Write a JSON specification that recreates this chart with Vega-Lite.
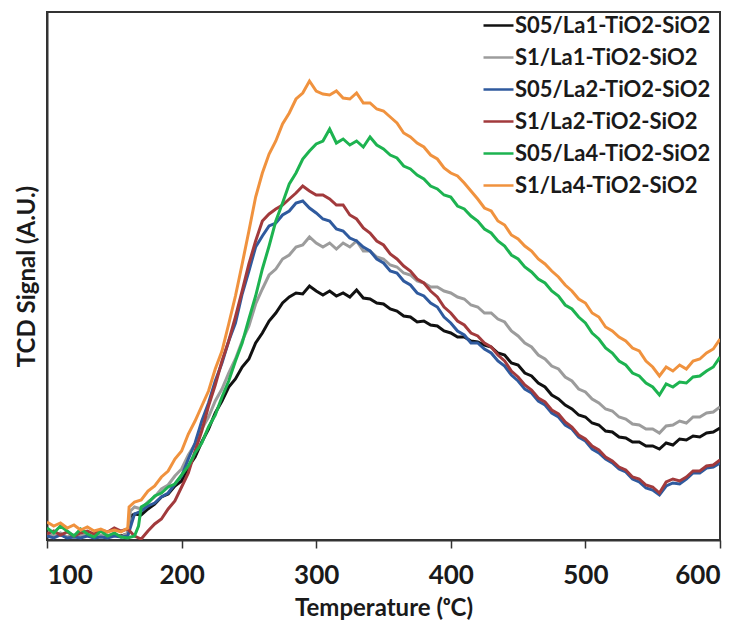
{
"$schema":"https://vega.github.io/schema/vega-lite/v6.json",
"width":673,"height":528,
"autosize":{"type":"none"},
"padding":{"left":47,"top":12,"right":28,"bottom":94},
"background":"white",
"config":{"view":{"stroke":"#333333","strokeWidth":2},"font":"Lato"},
"data":{"values":[
{"s":"S05/La1-TiO2-SiO2","t":100,"v":5},{"s":"S05/La1-TiO2-SiO2","t":105,"v":3},{"s":"S05/La1-TiO2-SiO2","t":110,"v":6},{"s":"S05/La1-TiO2-SiO2","t":115,"v":2},{"s":"S05/La1-TiO2-SiO2","t":120,"v":4},{"s":"S05/La1-TiO2-SiO2","t":125,"v":3},{"s":"S05/La1-TiO2-SiO2","t":130,"v":5},{"s":"S05/La1-TiO2-SiO2","t":135,"v":2},{"s":"S05/La1-TiO2-SiO2","t":140,"v":4},{"s":"S05/La1-TiO2-SiO2","t":145,"v":3},{"s":"S05/La1-TiO2-SiO2","t":150,"v":5},{"s":"S05/La1-TiO2-SiO2","t":155,"v":4},{"s":"S05/La1-TiO2-SiO2","t":160,"v":6},{"s":"S05/La1-TiO2-SiO2","t":162,"v":24},{"s":"S05/La1-TiO2-SiO2","t":165,"v":26},{"s":"S05/La1-TiO2-SiO2","t":170,"v":25},{"s":"S05/La1-TiO2-SiO2","t":175,"v":31},{"s":"S05/La1-TiO2-SiO2","t":180,"v":36},{"s":"S05/La1-TiO2-SiO2","t":185,"v":43},{"s":"S05/La1-TiO2-SiO2","t":190,"v":46},{"s":"S05/La1-TiO2-SiO2","t":195,"v":54},{"s":"S05/La1-TiO2-SiO2","t":200,"v":59},{"s":"S05/La1-TiO2-SiO2","t":205,"v":73},{"s":"S05/La1-TiO2-SiO2","t":210,"v":83},{"s":"S05/La1-TiO2-SiO2","t":215,"v":98},{"s":"S05/La1-TiO2-SiO2","t":220,"v":111},{"s":"S05/La1-TiO2-SiO2","t":225,"v":127},{"s":"S05/La1-TiO2-SiO2","t":230,"v":139},{"s":"S05/La1-TiO2-SiO2","t":235,"v":153},{"s":"S05/La1-TiO2-SiO2","t":240,"v":161},{"s":"S05/La1-TiO2-SiO2","t":245,"v":173},{"s":"S05/La1-TiO2-SiO2","t":250,"v":181},{"s":"S05/La1-TiO2-SiO2","t":255,"v":197},{"s":"S05/La1-TiO2-SiO2","t":260,"v":207},{"s":"S05/La1-TiO2-SiO2","t":265,"v":219},{"s":"S05/La1-TiO2-SiO2","t":270,"v":227},{"s":"S05/La1-TiO2-SiO2","t":275,"v":237},{"s":"S05/La1-TiO2-SiO2","t":280,"v":243},{"s":"S05/La1-TiO2-SiO2","t":285,"v":247},{"s":"S05/La1-TiO2-SiO2","t":290,"v":246},{"s":"S05/La1-TiO2-SiO2","t":295,"v":254},{"s":"S05/La1-TiO2-SiO2","t":300,"v":249},{"s":"S05/La1-TiO2-SiO2","t":305,"v":245},{"s":"S05/La1-TiO2-SiO2","t":310,"v":249},{"s":"S05/La1-TiO2-SiO2","t":315,"v":244},{"s":"S05/La1-TiO2-SiO2","t":320,"v":247},{"s":"S05/La1-TiO2-SiO2","t":325,"v":243},{"s":"S05/La1-TiO2-SiO2","t":330,"v":250},{"s":"S05/La1-TiO2-SiO2","t":335,"v":242},{"s":"S05/La1-TiO2-SiO2","t":340,"v":241},{"s":"S05/La1-TiO2-SiO2","t":345,"v":237},{"s":"S05/La1-TiO2-SiO2","t":350,"v":236},{"s":"S05/La1-TiO2-SiO2","t":355,"v":231},{"s":"S05/La1-TiO2-SiO2","t":360,"v":229},{"s":"S05/La1-TiO2-SiO2","t":365,"v":224},{"s":"S05/La1-TiO2-SiO2","t":370,"v":223},{"s":"S05/La1-TiO2-SiO2","t":375,"v":218},{"s":"S05/La1-TiO2-SiO2","t":380,"v":219},{"s":"S05/La1-TiO2-SiO2","t":385,"v":215},{"s":"S05/La1-TiO2-SiO2","t":390,"v":214},{"s":"S05/La1-TiO2-SiO2","t":395,"v":209},{"s":"S05/La1-TiO2-SiO2","t":400,"v":207},{"s":"S05/La1-TiO2-SiO2","t":405,"v":203},{"s":"S05/La1-TiO2-SiO2","t":410,"v":203},{"s":"S05/La1-TiO2-SiO2","t":415,"v":199},{"s":"S05/La1-TiO2-SiO2","t":420,"v":198},{"s":"S05/La1-TiO2-SiO2","t":425,"v":195},{"s":"S05/La1-TiO2-SiO2","t":430,"v":193},{"s":"S05/La1-TiO2-SiO2","t":435,"v":187},{"s":"S05/La1-TiO2-SiO2","t":440,"v":185},{"s":"S05/La1-TiO2-SiO2","t":445,"v":177},{"s":"S05/La1-TiO2-SiO2","t":450,"v":175},{"s":"S05/La1-TiO2-SiO2","t":455,"v":167},{"s":"S05/La1-TiO2-SiO2","t":460,"v":164},{"s":"S05/La1-TiO2-SiO2","t":465,"v":157},{"s":"S05/La1-TiO2-SiO2","t":470,"v":153},{"s":"S05/La1-TiO2-SiO2","t":475,"v":145},{"s":"S05/La1-TiO2-SiO2","t":480,"v":141},{"s":"S05/La1-TiO2-SiO2","t":485,"v":135},{"s":"S05/La1-TiO2-SiO2","t":490,"v":131},{"s":"S05/La1-TiO2-SiO2","t":495,"v":125},{"s":"S05/La1-TiO2-SiO2","t":500,"v":123},{"s":"S05/La1-TiO2-SiO2","t":505,"v":117},{"s":"S05/La1-TiO2-SiO2","t":510,"v":115},{"s":"S05/La1-TiO2-SiO2","t":515,"v":109},{"s":"S05/La1-TiO2-SiO2","t":520,"v":108},{"s":"S05/La1-TiO2-SiO2","t":525,"v":103},{"s":"S05/La1-TiO2-SiO2","t":530,"v":102},{"s":"S05/La1-TiO2-SiO2","t":535,"v":98},{"s":"S05/La1-TiO2-SiO2","t":540,"v":98},{"s":"S05/La1-TiO2-SiO2","t":545,"v":94},{"s":"S05/La1-TiO2-SiO2","t":550,"v":94},{"s":"S05/La1-TiO2-SiO2","t":555,"v":91},{"s":"S05/La1-TiO2-SiO2","t":560,"v":97},{"s":"S05/La1-TiO2-SiO2","t":565,"v":95},{"s":"S05/La1-TiO2-SiO2","t":570,"v":101},{"s":"S05/La1-TiO2-SiO2","t":575,"v":100},{"s":"S05/La1-TiO2-SiO2","t":580,"v":104},{"s":"S05/La1-TiO2-SiO2","t":585,"v":103},{"s":"S05/La1-TiO2-SiO2","t":590,"v":107},{"s":"S05/La1-TiO2-SiO2","t":595,"v":108},{"s":"S05/La1-TiO2-SiO2","t":600,"v":112},
{"s":"S1/La1-TiO2-SiO2","t":100,"v":6},{"s":"S1/La1-TiO2-SiO2","t":105,"v":4},{"s":"S1/La1-TiO2-SiO2","t":110,"v":7},{"s":"S1/La1-TiO2-SiO2","t":115,"v":3},{"s":"S1/La1-TiO2-SiO2","t":120,"v":5},{"s":"S1/La1-TiO2-SiO2","t":125,"v":4},{"s":"S1/La1-TiO2-SiO2","t":130,"v":6},{"s":"S1/La1-TiO2-SiO2","t":135,"v":3},{"s":"S1/La1-TiO2-SiO2","t":140,"v":5},{"s":"S1/La1-TiO2-SiO2","t":145,"v":4},{"s":"S1/La1-TiO2-SiO2","t":150,"v":6},{"s":"S1/La1-TiO2-SiO2","t":155,"v":3},{"s":"S1/La1-TiO2-SiO2","t":160,"v":7},{"s":"S1/La1-TiO2-SiO2","t":162,"v":29},{"s":"S1/La1-TiO2-SiO2","t":165,"v":33},{"s":"S1/La1-TiO2-SiO2","t":170,"v":31},{"s":"S1/La1-TiO2-SiO2","t":175,"v":38},{"s":"S1/La1-TiO2-SiO2","t":180,"v":43},{"s":"S1/La1-TiO2-SiO2","t":185,"v":51},{"s":"S1/La1-TiO2-SiO2","t":190,"v":55},{"s":"S1/La1-TiO2-SiO2","t":195,"v":64},{"s":"S1/La1-TiO2-SiO2","t":200,"v":71},{"s":"S1/La1-TiO2-SiO2","t":205,"v":85},{"s":"S1/La1-TiO2-SiO2","t":210,"v":96},{"s":"S1/La1-TiO2-SiO2","t":215,"v":111},{"s":"S1/La1-TiO2-SiO2","t":220,"v":123},{"s":"S1/La1-TiO2-SiO2","t":225,"v":139},{"s":"S1/La1-TiO2-SiO2","t":230,"v":151},{"s":"S1/La1-TiO2-SiO2","t":235,"v":167},{"s":"S1/La1-TiO2-SiO2","t":240,"v":181},{"s":"S1/La1-TiO2-SiO2","t":245,"v":199},{"s":"S1/La1-TiO2-SiO2","t":250,"v":214},{"s":"S1/La1-TiO2-SiO2","t":255,"v":236},{"s":"S1/La1-TiO2-SiO2","t":260,"v":251},{"s":"S1/La1-TiO2-SiO2","t":265,"v":265},{"s":"S1/La1-TiO2-SiO2","t":270,"v":271},{"s":"S1/La1-TiO2-SiO2","t":275,"v":281},{"s":"S1/La1-TiO2-SiO2","t":280,"v":285},{"s":"S1/La1-TiO2-SiO2","t":285,"v":293},{"s":"S1/La1-TiO2-SiO2","t":290,"v":295},{"s":"S1/La1-TiO2-SiO2","t":295,"v":303},{"s":"S1/La1-TiO2-SiO2","t":300,"v":297},{"s":"S1/La1-TiO2-SiO2","t":305,"v":293},{"s":"S1/La1-TiO2-SiO2","t":310,"v":297},{"s":"S1/La1-TiO2-SiO2","t":315,"v":291},{"s":"S1/La1-TiO2-SiO2","t":320,"v":297},{"s":"S1/La1-TiO2-SiO2","t":325,"v":293},{"s":"S1/La1-TiO2-SiO2","t":330,"v":299},{"s":"S1/La1-TiO2-SiO2","t":335,"v":289},{"s":"S1/La1-TiO2-SiO2","t":340,"v":289},{"s":"S1/La1-TiO2-SiO2","t":345,"v":283},{"s":"S1/La1-TiO2-SiO2","t":350,"v":281},{"s":"S1/La1-TiO2-SiO2","t":355,"v":275},{"s":"S1/La1-TiO2-SiO2","t":360,"v":273},{"s":"S1/La1-TiO2-SiO2","t":365,"v":267},{"s":"S1/La1-TiO2-SiO2","t":370,"v":265},{"s":"S1/La1-TiO2-SiO2","t":375,"v":259},{"s":"S1/La1-TiO2-SiO2","t":380,"v":257},{"s":"S1/La1-TiO2-SiO2","t":385,"v":253},{"s":"S1/La1-TiO2-SiO2","t":390,"v":253},{"s":"S1/La1-TiO2-SiO2","t":395,"v":249},{"s":"S1/La1-TiO2-SiO2","t":400,"v":247},{"s":"S1/La1-TiO2-SiO2","t":405,"v":243},{"s":"S1/La1-TiO2-SiO2","t":410,"v":241},{"s":"S1/La1-TiO2-SiO2","t":415,"v":235},{"s":"S1/La1-TiO2-SiO2","t":420,"v":233},{"s":"S1/La1-TiO2-SiO2","t":425,"v":227},{"s":"S1/La1-TiO2-SiO2","t":430,"v":227},{"s":"S1/La1-TiO2-SiO2","t":435,"v":221},{"s":"S1/La1-TiO2-SiO2","t":440,"v":218},{"s":"S1/La1-TiO2-SiO2","t":445,"v":209},{"s":"S1/La1-TiO2-SiO2","t":450,"v":204},{"s":"S1/La1-TiO2-SiO2","t":455,"v":197},{"s":"S1/La1-TiO2-SiO2","t":460,"v":193},{"s":"S1/La1-TiO2-SiO2","t":465,"v":185},{"s":"S1/La1-TiO2-SiO2","t":470,"v":181},{"s":"S1/La1-TiO2-SiO2","t":475,"v":174},{"s":"S1/La1-TiO2-SiO2","t":480,"v":171},{"s":"S1/La1-TiO2-SiO2","t":485,"v":163},{"s":"S1/La1-TiO2-SiO2","t":490,"v":159},{"s":"S1/La1-TiO2-SiO2","t":495,"v":151},{"s":"S1/La1-TiO2-SiO2","t":500,"v":148},{"s":"S1/La1-TiO2-SiO2","t":505,"v":141},{"s":"S1/La1-TiO2-SiO2","t":510,"v":137},{"s":"S1/La1-TiO2-SiO2","t":515,"v":131},{"s":"S1/La1-TiO2-SiO2","t":520,"v":129},{"s":"S1/La1-TiO2-SiO2","t":525,"v":123},{"s":"S1/La1-TiO2-SiO2","t":530,"v":121},{"s":"S1/La1-TiO2-SiO2","t":535,"v":116},{"s":"S1/La1-TiO2-SiO2","t":540,"v":115},{"s":"S1/La1-TiO2-SiO2","t":545,"v":111},{"s":"S1/La1-TiO2-SiO2","t":550,"v":111},{"s":"S1/La1-TiO2-SiO2","t":555,"v":107},{"s":"S1/La1-TiO2-SiO2","t":560,"v":114},{"s":"S1/La1-TiO2-SiO2","t":565,"v":115},{"s":"S1/La1-TiO2-SiO2","t":570,"v":119},{"s":"S1/La1-TiO2-SiO2","t":575,"v":117},{"s":"S1/La1-TiO2-SiO2","t":580,"v":123},{"s":"S1/La1-TiO2-SiO2","t":585,"v":123},{"s":"S1/La1-TiO2-SiO2","t":590,"v":127},{"s":"S1/La1-TiO2-SiO2","t":595,"v":128},{"s":"S1/La1-TiO2-SiO2","t":600,"v":133},
{"s":"S05/La2-TiO2-SiO2","t":100,"v":4},{"s":"S05/La2-TiO2-SiO2","t":105,"v":2},{"s":"S05/La2-TiO2-SiO2","t":110,"v":5},{"s":"S05/La2-TiO2-SiO2","t":115,"v":2},{"s":"S05/La2-TiO2-SiO2","t":120,"v":3},{"s":"S05/La2-TiO2-SiO2","t":125,"v":2},{"s":"S05/La2-TiO2-SiO2","t":130,"v":4},{"s":"S05/La2-TiO2-SiO2","t":135,"v":2},{"s":"S05/La2-TiO2-SiO2","t":140,"v":3},{"s":"S05/La2-TiO2-SiO2","t":145,"v":2},{"s":"S05/La2-TiO2-SiO2","t":150,"v":4},{"s":"S05/La2-TiO2-SiO2","t":155,"v":3},{"s":"S05/La2-TiO2-SiO2","t":160,"v":4},{"s":"S05/La2-TiO2-SiO2","t":165,"v":26},{"s":"S05/La2-TiO2-SiO2","t":170,"v":29},{"s":"S05/La2-TiO2-SiO2","t":175,"v":34},{"s":"S05/La2-TiO2-SiO2","t":180,"v":37},{"s":"S05/La2-TiO2-SiO2","t":185,"v":43},{"s":"S05/La2-TiO2-SiO2","t":190,"v":47},{"s":"S05/La2-TiO2-SiO2","t":195,"v":56},{"s":"S05/La2-TiO2-SiO2","t":200,"v":64},{"s":"S05/La2-TiO2-SiO2","t":205,"v":81},{"s":"S05/La2-TiO2-SiO2","t":210,"v":97},{"s":"S05/La2-TiO2-SiO2","t":215,"v":119},{"s":"S05/La2-TiO2-SiO2","t":220,"v":137},{"s":"S05/La2-TiO2-SiO2","t":225,"v":159},{"s":"S05/La2-TiO2-SiO2","t":230,"v":177},{"s":"S05/La2-TiO2-SiO2","t":235,"v":199},{"s":"S05/La2-TiO2-SiO2","t":240,"v":217},{"s":"S05/La2-TiO2-SiO2","t":245,"v":246},{"s":"S05/La2-TiO2-SiO2","t":250,"v":269},{"s":"S05/La2-TiO2-SiO2","t":255,"v":293},{"s":"S05/La2-TiO2-SiO2","t":260,"v":304},{"s":"S05/La2-TiO2-SiO2","t":265,"v":314},{"s":"S05/La2-TiO2-SiO2","t":270,"v":317},{"s":"S05/La2-TiO2-SiO2","t":275,"v":325},{"s":"S05/La2-TiO2-SiO2","t":280,"v":329},{"s":"S05/La2-TiO2-SiO2","t":285,"v":337},{"s":"S05/La2-TiO2-SiO2","t":290,"v":339},{"s":"S05/La2-TiO2-SiO2","t":295,"v":332},{"s":"S05/La2-TiO2-SiO2","t":300,"v":327},{"s":"S05/La2-TiO2-SiO2","t":305,"v":321},{"s":"S05/La2-TiO2-SiO2","t":310,"v":319},{"s":"S05/La2-TiO2-SiO2","t":315,"v":311},{"s":"S05/La2-TiO2-SiO2","t":320,"v":309},{"s":"S05/La2-TiO2-SiO2","t":325,"v":302},{"s":"S05/La2-TiO2-SiO2","t":330,"v":299},{"s":"S05/La2-TiO2-SiO2","t":335,"v":293},{"s":"S05/La2-TiO2-SiO2","t":340,"v":289},{"s":"S05/La2-TiO2-SiO2","t":345,"v":281},{"s":"S05/La2-TiO2-SiO2","t":350,"v":277},{"s":"S05/La2-TiO2-SiO2","t":355,"v":269},{"s":"S05/La2-TiO2-SiO2","t":360,"v":267},{"s":"S05/La2-TiO2-SiO2","t":365,"v":259},{"s":"S05/La2-TiO2-SiO2","t":370,"v":255},{"s":"S05/La2-TiO2-SiO2","t":375,"v":247},{"s":"S05/La2-TiO2-SiO2","t":380,"v":244},{"s":"S05/La2-TiO2-SiO2","t":385,"v":237},{"s":"S05/La2-TiO2-SiO2","t":390,"v":233},{"s":"S05/La2-TiO2-SiO2","t":395,"v":223},{"s":"S05/La2-TiO2-SiO2","t":400,"v":217},{"s":"S05/La2-TiO2-SiO2","t":405,"v":209},{"s":"S05/La2-TiO2-SiO2","t":410,"v":205},{"s":"S05/La2-TiO2-SiO2","t":415,"v":197},{"s":"S05/La2-TiO2-SiO2","t":420,"v":197},{"s":"S05/La2-TiO2-SiO2","t":425,"v":191},{"s":"S05/La2-TiO2-SiO2","t":430,"v":187},{"s":"S05/La2-TiO2-SiO2","t":435,"v":179},{"s":"S05/La2-TiO2-SiO2","t":440,"v":174},{"s":"S05/La2-TiO2-SiO2","t":445,"v":165},{"s":"S05/La2-TiO2-SiO2","t":450,"v":159},{"s":"S05/La2-TiO2-SiO2","t":455,"v":151},{"s":"S05/La2-TiO2-SiO2","t":460,"v":147},{"s":"S05/La2-TiO2-SiO2","t":465,"v":139},{"s":"S05/La2-TiO2-SiO2","t":470,"v":135},{"s":"S05/La2-TiO2-SiO2","t":475,"v":127},{"s":"S05/La2-TiO2-SiO2","t":480,"v":123},{"s":"S05/La2-TiO2-SiO2","t":485,"v":115},{"s":"S05/La2-TiO2-SiO2","t":490,"v":111},{"s":"S05/La2-TiO2-SiO2","t":495,"v":103},{"s":"S05/La2-TiO2-SiO2","t":500,"v":99},{"s":"S05/La2-TiO2-SiO2","t":505,"v":91},{"s":"S05/La2-TiO2-SiO2","t":510,"v":87},{"s":"S05/La2-TiO2-SiO2","t":515,"v":81},{"s":"S05/La2-TiO2-SiO2","t":520,"v":77},{"s":"S05/La2-TiO2-SiO2","t":525,"v":71},{"s":"S05/La2-TiO2-SiO2","t":530,"v":68},{"s":"S05/La2-TiO2-SiO2","t":535,"v":61},{"s":"S05/La2-TiO2-SiO2","t":540,"v":58},{"s":"S05/La2-TiO2-SiO2","t":545,"v":52},{"s":"S05/La2-TiO2-SiO2","t":550,"v":50},{"s":"S05/La2-TiO2-SiO2","t":555,"v":45},{"s":"S05/La2-TiO2-SiO2","t":560,"v":54},{"s":"S05/La2-TiO2-SiO2","t":565,"v":57},{"s":"S05/La2-TiO2-SiO2","t":570,"v":56},{"s":"S05/La2-TiO2-SiO2","t":575,"v":61},{"s":"S05/La2-TiO2-SiO2","t":580,"v":67},{"s":"S05/La2-TiO2-SiO2","t":585,"v":67},{"s":"S05/La2-TiO2-SiO2","t":590,"v":72},{"s":"S05/La2-TiO2-SiO2","t":595,"v":73},{"s":"S05/La2-TiO2-SiO2","t":600,"v":77},
{"s":"S1/La2-TiO2-SiO2","t":100,"v":6},{"s":"S1/La2-TiO2-SiO2","t":105,"v":9},{"s":"S1/La2-TiO2-SiO2","t":110,"v":5},{"s":"S1/La2-TiO2-SiO2","t":115,"v":8},{"s":"S1/La2-TiO2-SiO2","t":120,"v":4},{"s":"S1/La2-TiO2-SiO2","t":125,"v":7},{"s":"S1/La2-TiO2-SiO2","t":130,"v":9},{"s":"S1/La2-TiO2-SiO2","t":135,"v":6},{"s":"S1/La2-TiO2-SiO2","t":140,"v":10},{"s":"S1/La2-TiO2-SiO2","t":145,"v":8},{"s":"S1/La2-TiO2-SiO2","t":150,"v":12},{"s":"S1/La2-TiO2-SiO2","t":155,"v":9},{"s":"S1/La2-TiO2-SiO2","t":160,"v":11},{"s":"S1/La2-TiO2-SiO2","t":165,"v":4},{"s":"S1/La2-TiO2-SiO2","t":170,"v":1},{"s":"S1/La2-TiO2-SiO2","t":175,"v":9},{"s":"S1/La2-TiO2-SiO2","t":180,"v":16},{"s":"S1/La2-TiO2-SiO2","t":185,"v":21},{"s":"S1/La2-TiO2-SiO2","t":190,"v":31},{"s":"S1/La2-TiO2-SiO2","t":195,"v":39},{"s":"S1/La2-TiO2-SiO2","t":200,"v":53},{"s":"S1/La2-TiO2-SiO2","t":205,"v":67},{"s":"S1/La2-TiO2-SiO2","t":210,"v":89},{"s":"S1/La2-TiO2-SiO2","t":215,"v":109},{"s":"S1/La2-TiO2-SiO2","t":220,"v":134},{"s":"S1/La2-TiO2-SiO2","t":225,"v":155},{"s":"S1/La2-TiO2-SiO2","t":230,"v":179},{"s":"S1/La2-TiO2-SiO2","t":235,"v":199},{"s":"S1/La2-TiO2-SiO2","t":240,"v":223},{"s":"S1/La2-TiO2-SiO2","t":245,"v":249},{"s":"S1/La2-TiO2-SiO2","t":250,"v":276},{"s":"S1/La2-TiO2-SiO2","t":255,"v":299},{"s":"S1/La2-TiO2-SiO2","t":260,"v":319},{"s":"S1/La2-TiO2-SiO2","t":265,"v":326},{"s":"S1/La2-TiO2-SiO2","t":270,"v":331},{"s":"S1/La2-TiO2-SiO2","t":275,"v":335},{"s":"S1/La2-TiO2-SiO2","t":280,"v":341},{"s":"S1/La2-TiO2-SiO2","t":285,"v":347},{"s":"S1/La2-TiO2-SiO2","t":290,"v":354},{"s":"S1/La2-TiO2-SiO2","t":295,"v":349},{"s":"S1/La2-TiO2-SiO2","t":300,"v":345},{"s":"S1/La2-TiO2-SiO2","t":305,"v":345},{"s":"S1/La2-TiO2-SiO2","t":310,"v":341},{"s":"S1/La2-TiO2-SiO2","t":315,"v":335},{"s":"S1/La2-TiO2-SiO2","t":320,"v":335},{"s":"S1/La2-TiO2-SiO2","t":325,"v":325},{"s":"S1/La2-TiO2-SiO2","t":330,"v":321},{"s":"S1/La2-TiO2-SiO2","t":335,"v":312},{"s":"S1/La2-TiO2-SiO2","t":340,"v":307},{"s":"S1/La2-TiO2-SiO2","t":345,"v":299},{"s":"S1/La2-TiO2-SiO2","t":350,"v":295},{"s":"S1/La2-TiO2-SiO2","t":355,"v":286},{"s":"S1/La2-TiO2-SiO2","t":360,"v":281},{"s":"S1/La2-TiO2-SiO2","t":365,"v":274},{"s":"S1/La2-TiO2-SiO2","t":370,"v":269},{"s":"S1/La2-TiO2-SiO2","t":375,"v":261},{"s":"S1/La2-TiO2-SiO2","t":380,"v":257},{"s":"S1/La2-TiO2-SiO2","t":385,"v":249},{"s":"S1/La2-TiO2-SiO2","t":390,"v":243},{"s":"S1/La2-TiO2-SiO2","t":395,"v":233},{"s":"S1/La2-TiO2-SiO2","t":400,"v":227},{"s":"S1/La2-TiO2-SiO2","t":405,"v":219},{"s":"S1/La2-TiO2-SiO2","t":410,"v":215},{"s":"S1/La2-TiO2-SiO2","t":415,"v":207},{"s":"S1/La2-TiO2-SiO2","t":420,"v":204},{"s":"S1/La2-TiO2-SiO2","t":425,"v":197},{"s":"S1/La2-TiO2-SiO2","t":430,"v":193},{"s":"S1/La2-TiO2-SiO2","t":435,"v":185},{"s":"S1/La2-TiO2-SiO2","t":440,"v":179},{"s":"S1/La2-TiO2-SiO2","t":445,"v":169},{"s":"S1/La2-TiO2-SiO2","t":450,"v":163},{"s":"S1/La2-TiO2-SiO2","t":455,"v":155},{"s":"S1/La2-TiO2-SiO2","t":460,"v":150},{"s":"S1/La2-TiO2-SiO2","t":465,"v":142},{"s":"S1/La2-TiO2-SiO2","t":470,"v":138},{"s":"S1/La2-TiO2-SiO2","t":475,"v":130},{"s":"S1/La2-TiO2-SiO2","t":480,"v":126},{"s":"S1/La2-TiO2-SiO2","t":485,"v":118},{"s":"S1/La2-TiO2-SiO2","t":490,"v":113},{"s":"S1/La2-TiO2-SiO2","t":495,"v":105},{"s":"S1/La2-TiO2-SiO2","t":500,"v":101},{"s":"S1/La2-TiO2-SiO2","t":505,"v":94},{"s":"S1/La2-TiO2-SiO2","t":510,"v":90},{"s":"S1/La2-TiO2-SiO2","t":515,"v":83},{"s":"S1/La2-TiO2-SiO2","t":520,"v":79},{"s":"S1/La2-TiO2-SiO2","t":525,"v":73},{"s":"S1/La2-TiO2-SiO2","t":530,"v":70},{"s":"S1/La2-TiO2-SiO2","t":535,"v":63},{"s":"S1/La2-TiO2-SiO2","t":540,"v":61},{"s":"S1/La2-TiO2-SiO2","t":545,"v":55},{"s":"S1/La2-TiO2-SiO2","t":550,"v":53},{"s":"S1/La2-TiO2-SiO2","t":555,"v":47},{"s":"S1/La2-TiO2-SiO2","t":560,"v":58},{"s":"S1/La2-TiO2-SiO2","t":565,"v":61},{"s":"S1/La2-TiO2-SiO2","t":570,"v":59},{"s":"S1/La2-TiO2-SiO2","t":575,"v":63},{"s":"S1/La2-TiO2-SiO2","t":580,"v":69},{"s":"S1/La2-TiO2-SiO2","t":585,"v":69},{"s":"S1/La2-TiO2-SiO2","t":590,"v":74},{"s":"S1/La2-TiO2-SiO2","t":595,"v":75},{"s":"S1/La2-TiO2-SiO2","t":600,"v":80},
{"s":"S05/La4-TiO2-SiO2","t":100,"v":12},{"s":"S05/La4-TiO2-SiO2","t":105,"v":7},{"s":"S05/La4-TiO2-SiO2","t":110,"v":14},{"s":"S05/La4-TiO2-SiO2","t":115,"v":9},{"s":"S05/La4-TiO2-SiO2","t":120,"v":4},{"s":"S05/La4-TiO2-SiO2","t":125,"v":11},{"s":"S05/La4-TiO2-SiO2","t":130,"v":6},{"s":"S05/La4-TiO2-SiO2","t":135,"v":3},{"s":"S05/La4-TiO2-SiO2","t":140,"v":9},{"s":"S05/La4-TiO2-SiO2","t":145,"v":4},{"s":"S05/La4-TiO2-SiO2","t":150,"v":7},{"s":"S05/La4-TiO2-SiO2","t":155,"v":3},{"s":"S05/La4-TiO2-SiO2","t":160,"v":2},{"s":"S05/La4-TiO2-SiO2","t":165,"v":4},{"s":"S05/La4-TiO2-SiO2","t":168,"v":14},{"s":"S05/La4-TiO2-SiO2","t":170,"v":33},{"s":"S05/La4-TiO2-SiO2","t":175,"v":37},{"s":"S05/La4-TiO2-SiO2","t":180,"v":44},{"s":"S05/La4-TiO2-SiO2","t":185,"v":47},{"s":"S05/La4-TiO2-SiO2","t":190,"v":53},{"s":"S05/La4-TiO2-SiO2","t":195,"v":56},{"s":"S05/La4-TiO2-SiO2","t":200,"v":65},{"s":"S05/La4-TiO2-SiO2","t":205,"v":74},{"s":"S05/La4-TiO2-SiO2","t":210,"v":87},{"s":"S05/La4-TiO2-SiO2","t":215,"v":97},{"s":"S05/La4-TiO2-SiO2","t":220,"v":113},{"s":"S05/La4-TiO2-SiO2","t":225,"v":125},{"s":"S05/La4-TiO2-SiO2","t":230,"v":143},{"s":"S05/La4-TiO2-SiO2","t":235,"v":159},{"s":"S05/La4-TiO2-SiO2","t":240,"v":179},{"s":"S05/La4-TiO2-SiO2","t":245,"v":197},{"s":"S05/La4-TiO2-SiO2","t":250,"v":221},{"s":"S05/La4-TiO2-SiO2","t":255,"v":244},{"s":"S05/La4-TiO2-SiO2","t":260,"v":271},{"s":"S05/La4-TiO2-SiO2","t":265,"v":294},{"s":"S05/La4-TiO2-SiO2","t":270,"v":319},{"s":"S05/La4-TiO2-SiO2","t":275,"v":337},{"s":"S05/La4-TiO2-SiO2","t":280,"v":356},{"s":"S05/La4-TiO2-SiO2","t":285,"v":367},{"s":"S05/La4-TiO2-SiO2","t":290,"v":381},{"s":"S05/La4-TiO2-SiO2","t":295,"v":389},{"s":"S05/La4-TiO2-SiO2","t":300,"v":396},{"s":"S05/La4-TiO2-SiO2","t":305,"v":399},{"s":"S05/La4-TiO2-SiO2","t":310,"v":411},{"s":"S05/La4-TiO2-SiO2","t":315,"v":397},{"s":"S05/La4-TiO2-SiO2","t":320,"v":401},{"s":"S05/La4-TiO2-SiO2","t":325,"v":395},{"s":"S05/La4-TiO2-SiO2","t":330,"v":399},{"s":"S05/La4-TiO2-SiO2","t":335,"v":393},{"s":"S05/La4-TiO2-SiO2","t":340,"v":403},{"s":"S05/La4-TiO2-SiO2","t":345,"v":395},{"s":"S05/La4-TiO2-SiO2","t":350,"v":391},{"s":"S05/La4-TiO2-SiO2","t":355,"v":385},{"s":"S05/La4-TiO2-SiO2","t":360,"v":382},{"s":"S05/La4-TiO2-SiO2","t":365,"v":374},{"s":"S05/La4-TiO2-SiO2","t":370,"v":371},{"s":"S05/La4-TiO2-SiO2","t":375,"v":365},{"s":"S05/La4-TiO2-SiO2","t":380,"v":361},{"s":"S05/La4-TiO2-SiO2","t":385,"v":354},{"s":"S05/La4-TiO2-SiO2","t":390,"v":351},{"s":"S05/La4-TiO2-SiO2","t":395,"v":345},{"s":"S05/La4-TiO2-SiO2","t":400,"v":343},{"s":"S05/La4-TiO2-SiO2","t":405,"v":334},{"s":"S05/La4-TiO2-SiO2","t":410,"v":331},{"s":"S05/La4-TiO2-SiO2","t":415,"v":324},{"s":"S05/La4-TiO2-SiO2","t":420,"v":319},{"s":"S05/La4-TiO2-SiO2","t":425,"v":311},{"s":"S05/La4-TiO2-SiO2","t":430,"v":307},{"s":"S05/La4-TiO2-SiO2","t":435,"v":299},{"s":"S05/La4-TiO2-SiO2","t":440,"v":294},{"s":"S05/La4-TiO2-SiO2","t":445,"v":285},{"s":"S05/La4-TiO2-SiO2","t":450,"v":281},{"s":"S05/La4-TiO2-SiO2","t":455,"v":273},{"s":"S05/La4-TiO2-SiO2","t":460,"v":268},{"s":"S05/La4-TiO2-SiO2","t":465,"v":261},{"s":"S05/La4-TiO2-SiO2","t":470,"v":257},{"s":"S05/La4-TiO2-SiO2","t":475,"v":249},{"s":"S05/La4-TiO2-SiO2","t":480,"v":244},{"s":"S05/La4-TiO2-SiO2","t":485,"v":235},{"s":"S05/La4-TiO2-SiO2","t":490,"v":231},{"s":"S05/La4-TiO2-SiO2","t":495,"v":223},{"s":"S05/La4-TiO2-SiO2","t":500,"v":217},{"s":"S05/La4-TiO2-SiO2","t":505,"v":207},{"s":"S05/La4-TiO2-SiO2","t":510,"v":201},{"s":"S05/La4-TiO2-SiO2","t":515,"v":192},{"s":"S05/La4-TiO2-SiO2","t":520,"v":187},{"s":"S05/La4-TiO2-SiO2","t":525,"v":179},{"s":"S05/La4-TiO2-SiO2","t":530,"v":175},{"s":"S05/La4-TiO2-SiO2","t":535,"v":167},{"s":"S05/La4-TiO2-SiO2","t":540,"v":164},{"s":"S05/La4-TiO2-SiO2","t":545,"v":157},{"s":"S05/La4-TiO2-SiO2","t":550,"v":153},{"s":"S05/La4-TiO2-SiO2","t":555,"v":145},{"s":"S05/La4-TiO2-SiO2","t":560,"v":156},{"s":"S05/La4-TiO2-SiO2","t":565,"v":153},{"s":"S05/La4-TiO2-SiO2","t":570,"v":158},{"s":"S05/La4-TiO2-SiO2","t":575,"v":157},{"s":"S05/La4-TiO2-SiO2","t":580,"v":163},{"s":"S05/La4-TiO2-SiO2","t":585,"v":164},{"s":"S05/La4-TiO2-SiO2","t":590,"v":169},{"s":"S05/La4-TiO2-SiO2","t":595,"v":173},{"s":"S05/La4-TiO2-SiO2","t":600,"v":183},
{"s":"S1/La4-TiO2-SiO2","t":100,"v":18},{"s":"S1/La4-TiO2-SiO2","t":105,"v":14},{"s":"S1/La4-TiO2-SiO2","t":110,"v":17},{"s":"S1/La4-TiO2-SiO2","t":115,"v":12},{"s":"S1/La4-TiO2-SiO2","t":120,"v":15},{"s":"S1/La4-TiO2-SiO2","t":125,"v":10},{"s":"S1/La4-TiO2-SiO2","t":130,"v":13},{"s":"S1/La4-TiO2-SiO2","t":135,"v":9},{"s":"S1/La4-TiO2-SiO2","t":140,"v":11},{"s":"S1/La4-TiO2-SiO2","t":145,"v":8},{"s":"S1/La4-TiO2-SiO2","t":150,"v":10},{"s":"S1/La4-TiO2-SiO2","t":155,"v":8},{"s":"S1/La4-TiO2-SiO2","t":160,"v":12},{"s":"S1/La4-TiO2-SiO2","t":161,"v":33},{"s":"S1/La4-TiO2-SiO2","t":165,"v":38},{"s":"S1/La4-TiO2-SiO2","t":170,"v":40},{"s":"S1/La4-TiO2-SiO2","t":175,"v":49},{"s":"S1/La4-TiO2-SiO2","t":180,"v":54},{"s":"S1/La4-TiO2-SiO2","t":185,"v":63},{"s":"S1/La4-TiO2-SiO2","t":190,"v":69},{"s":"S1/La4-TiO2-SiO2","t":195,"v":81},{"s":"S1/La4-TiO2-SiO2","t":200,"v":89},{"s":"S1/La4-TiO2-SiO2","t":205,"v":106},{"s":"S1/La4-TiO2-SiO2","t":210,"v":119},{"s":"S1/La4-TiO2-SiO2","t":215,"v":134},{"s":"S1/La4-TiO2-SiO2","t":220,"v":149},{"s":"S1/La4-TiO2-SiO2","t":225,"v":171},{"s":"S1/La4-TiO2-SiO2","t":230,"v":189},{"s":"S1/La4-TiO2-SiO2","t":235,"v":216},{"s":"S1/La4-TiO2-SiO2","t":240,"v":244},{"s":"S1/La4-TiO2-SiO2","t":245,"v":276},{"s":"S1/La4-TiO2-SiO2","t":250,"v":309},{"s":"S1/La4-TiO2-SiO2","t":255,"v":343},{"s":"S1/La4-TiO2-SiO2","t":260,"v":367},{"s":"S1/La4-TiO2-SiO2","t":265,"v":386},{"s":"S1/La4-TiO2-SiO2","t":270,"v":399},{"s":"S1/La4-TiO2-SiO2","t":275,"v":416},{"s":"S1/La4-TiO2-SiO2","t":280,"v":427},{"s":"S1/La4-TiO2-SiO2","t":285,"v":441},{"s":"S1/La4-TiO2-SiO2","t":290,"v":447},{"s":"S1/La4-TiO2-SiO2","t":295,"v":459},{"s":"S1/La4-TiO2-SiO2","t":300,"v":449},{"s":"S1/La4-TiO2-SiO2","t":305,"v":446},{"s":"S1/La4-TiO2-SiO2","t":310,"v":445},{"s":"S1/La4-TiO2-SiO2","t":315,"v":449},{"s":"S1/La4-TiO2-SiO2","t":320,"v":442},{"s":"S1/La4-TiO2-SiO2","t":325,"v":441},{"s":"S1/La4-TiO2-SiO2","t":330,"v":447},{"s":"S1/La4-TiO2-SiO2","t":335,"v":437},{"s":"S1/La4-TiO2-SiO2","t":340,"v":437},{"s":"S1/La4-TiO2-SiO2","t":345,"v":431},{"s":"S1/La4-TiO2-SiO2","t":350,"v":429},{"s":"S1/La4-TiO2-SiO2","t":355,"v":423},{"s":"S1/La4-TiO2-SiO2","t":360,"v":417},{"s":"S1/La4-TiO2-SiO2","t":365,"v":407},{"s":"S1/La4-TiO2-SiO2","t":370,"v":403},{"s":"S1/La4-TiO2-SiO2","t":375,"v":397},{"s":"S1/La4-TiO2-SiO2","t":380,"v":393},{"s":"S1/La4-TiO2-SiO2","t":385,"v":385},{"s":"S1/La4-TiO2-SiO2","t":390,"v":381},{"s":"S1/La4-TiO2-SiO2","t":395,"v":372},{"s":"S1/La4-TiO2-SiO2","t":400,"v":367},{"s":"S1/La4-TiO2-SiO2","t":405,"v":364},{"s":"S1/La4-TiO2-SiO2","t":410,"v":357},{"s":"S1/La4-TiO2-SiO2","t":415,"v":349},{"s":"S1/La4-TiO2-SiO2","t":420,"v":341},{"s":"S1/La4-TiO2-SiO2","t":425,"v":332},{"s":"S1/La4-TiO2-SiO2","t":430,"v":329},{"s":"S1/La4-TiO2-SiO2","t":435,"v":319},{"s":"S1/La4-TiO2-SiO2","t":440,"v":315},{"s":"S1/La4-TiO2-SiO2","t":445,"v":305},{"s":"S1/La4-TiO2-SiO2","t":450,"v":301},{"s":"S1/La4-TiO2-SiO2","t":455,"v":294},{"s":"S1/La4-TiO2-SiO2","t":460,"v":289},{"s":"S1/La4-TiO2-SiO2","t":465,"v":281},{"s":"S1/La4-TiO2-SiO2","t":470,"v":276},{"s":"S1/La4-TiO2-SiO2","t":475,"v":269},{"s":"S1/La4-TiO2-SiO2","t":480,"v":263},{"s":"S1/La4-TiO2-SiO2","t":485,"v":255},{"s":"S1/La4-TiO2-SiO2","t":490,"v":249},{"s":"S1/La4-TiO2-SiO2","t":495,"v":241},{"s":"S1/La4-TiO2-SiO2","t":500,"v":237},{"s":"S1/La4-TiO2-SiO2","t":505,"v":227},{"s":"S1/La4-TiO2-SiO2","t":510,"v":223},{"s":"S1/La4-TiO2-SiO2","t":515,"v":213},{"s":"S1/La4-TiO2-SiO2","t":520,"v":209},{"s":"S1/La4-TiO2-SiO2","t":525,"v":203},{"s":"S1/La4-TiO2-SiO2","t":530,"v":199},{"s":"S1/La4-TiO2-SiO2","t":535,"v":192},{"s":"S1/La4-TiO2-SiO2","t":540,"v":189},{"s":"S1/La4-TiO2-SiO2","t":545,"v":179},{"s":"S1/La4-TiO2-SiO2","t":550,"v":173},{"s":"S1/La4-TiO2-SiO2","t":555,"v":164},{"s":"S1/La4-TiO2-SiO2","t":560,"v":173},{"s":"S1/La4-TiO2-SiO2","t":565,"v":169},{"s":"S1/La4-TiO2-SiO2","t":570,"v":175},{"s":"S1/La4-TiO2-SiO2","t":575,"v":171},{"s":"S1/La4-TiO2-SiO2","t":580,"v":179},{"s":"S1/La4-TiO2-SiO2","t":585,"v":181},{"s":"S1/La4-TiO2-SiO2","t":590,"v":187},{"s":"S1/La4-TiO2-SiO2","t":595,"v":191},{"s":"S1/La4-TiO2-SiO2","t":600,"v":201}
]},
"mark":{"type":"line","strokeWidth":3,"clip":true,"strokeJoin":"miter"},
"encoding":{
"x":{"field":"t","type":"quantitative","scale":{"domain":[100,600],"nice":false},
"axis":{"values":[100,200,300,400,500,600],"title":"Temperature (ᵒC)","grid":false,"domainColor":"#333333","domainWidth":2,"tickColor":"#333333","tickWidth":1.5,"tickSize":8,"labelFont":"Lato","labelFontSize":26,"labelFontWeight":"bold","labelColor":"#1a1a1a","labelPadding":14,"titleFont":"Lato","titleFontSize":24,"titleFontWeight":"bold","titleColor":"#1a1a1a","titlePadding":8}},
"y":{"field":"v","type":"quantitative","scale":{"domain":[0,528],"nice":false},
"axis":{"title":"TCD Signal (A.U.)","grid":false,"labels":false,"ticks":false,"domainColor":"#333333","domainWidth":2,"titleFont":"Lato","titleFontSize":24,"titleFontWeight":"bold","titleColor":"#1a1a1a","titleX":-20,"titleBaseline":"middle"}},
"color":{"field":"s","type":"nominal","sort":null,
"scale":{"domain":["S05/La1-TiO2-SiO2","S1/La1-TiO2-SiO2","S05/La2-TiO2-SiO2","S1/La2-TiO2-SiO2","S05/La4-TiO2-SiO2","S1/La4-TiO2-SiO2"],"range":["#111111","#9c9c9c","#2f5a9e","#a23a3c","#1db350","#f0923e"]},
"legend":{"title":null,"orient":"none","legendX":435,"legendY":-3,"symbolType":"stroke","symbolSize":900,"symbolStrokeWidth":2.5,"labelFont":"Lato","labelFontSize":22,"labelFontWeight":"bold","labelColor":"#1a1a1a","labelLimit":300,"rowPadding":4,"labelOffset":0}}
}
}
